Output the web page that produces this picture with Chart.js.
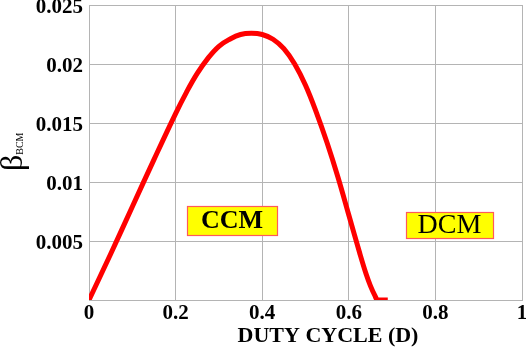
<!DOCTYPE html>
<html>
<head>
<meta charset="utf-8">
<script src="https://cdn.jsdelivr.net/npm/chart.js@4.4.1/dist/chart.umd.min.js"></script>
<style>
  html, body { margin: 0; padding: 0; background: #fff; }
  #wrap { width: 526px; height: 353px; }
</style>
</head>
<body>
<div id="wrap"><canvas id="betaChart" width="526" height="353"></canvas></div>
<script>
// duty cycle D and beta_BCM
const duty = [0, 0.05, 0.1, 0.15, 0.2, 0.225, 0.25, 0.275, 0.3, 0.325, 0.35, 0.375, 0.4, 0.425, 0.45, 0.475, 0.5, 0.525, 0.55, 0.575, 0.6, 0.625, 0.64, 0.65, 0.66, 0.667, 0.69];
const beta = [0, 0.0039, 0.0079, 0.0119, 0.0158, 0.0176, 0.0192, 0.0205, 0.0215, 0.0221, 0.0225, 0.0226, 0.0225, 0.0221, 0.0213, 0.0200, 0.0182, 0.0159, 0.0133, 0.0104, 0.0072, 0.0040, 0.0022, 0.0012, 0.0004, 0, 0];
const xTicks = [0, 0.2, 0.4, 0.6, 0.8, 1];
const yTicks = [0, 0.005, 0.01, 0.015, 0.02, 0.025];

const serif = '"Liberation Serif", "Times New Roman", serif';

// titles + CCM/DCM boxes
const extras = {
  id: 'extras',
  afterDraw(chart) {
    const ctx = chart.ctx;
    ctx.save();
    ctx.fillStyle = '#000';
    ctx.font = 'bold 22px ' + serif;
    ctx.textAlign = 'center';
    ctx.textBaseline = 'middle';
    ctx.fillText('DUTY CYCLE (D)', 328, 336);

    // y title: beta with subscript BCM, rotated
    ctx.translate(14, 171);
    ctx.rotate(-Math.PI / 2);
    ctx.textAlign = 'left';
    ctx.textBaseline = 'middle';
    ctx.font = '32px ' + serif;
    ctx.fillText('\u03B2', 0, 0);
    const bw = ctx.measureText('\u03B2').width;
    ctx.font = '10px ' + serif;
    ctx.fillText('BCM', bw, 6);
    ctx.restore();

    function box(label, x, y, w, h, font) {
      ctx.save();
      ctx.fillStyle = '#ffff00';
      ctx.fillRect(x, y, w, h);
      ctx.strokeStyle = '#ff5a5a';
      ctx.lineWidth = 1.2;
      ctx.strokeRect(x + 0.5, y + 0.5, w, h);
      ctx.fillStyle = '#000';
      ctx.font = font;
      ctx.textAlign = 'center';
      ctx.textBaseline = 'middle';
      ctx.fillText(label, x + w / 2, y + h / 2 + 1);
      ctx.restore();
    }
    box('CCM', 187, 206, 90, 29, 'bold 26px ' + serif);
    box('DCM', 406, 212, 87, 26, '28px ' + serif);
  }
};

new Chart(document.getElementById('betaChart'), {
  type: 'line',
  data: {
    datasets: [{
      data: duty.map((d, i) => ({ x: d, y: beta[i] })),
      borderColor: '#ff0000',
      borderWidth: 5,
      pointRadius: 0,
      tension: 0.4,
      fill: false
    }]
  },
  options: {
    responsive: false,
    animation: false,
    layout: { padding: { top: 5, right: 4, left: 0, bottom: 0 } },
    plugins: { legend: { display: false }, tooltip: { enabled: false } },
    scales: {
      x: {
        type: 'linear',
        min: 0, max: 1,
        afterBuildTicks: s => { s.ticks = xTicks.map(v => ({ value: v })); },
        afterFit: s => { s.height = 53; s.paddingLeft = 0; s.paddingRight = 0; },
        ticks: {
          color: '#000',
          padding: 1,
          font: { family: serif, size: 21, weight: 'bold' },
          callback: v => String(v)
        },
        grid: { color: '#b4b4b4', lineWidth: 1, drawTicks: false },
        border: { color: '#b4b4b4' }
      },
      y: {
        min: 0, max: 0.025,
        afterBuildTicks: s => { s.ticks = yTicks.map(v => ({ value: v })); },
        afterFit: s => { s.width = 89; s.paddingTop = 0; s.paddingBottom = 0; },
        ticks: {
          color: '#000',
          padding: 6,
          labelOffset: 3,
          font: { family: serif, size: 21, weight: 'bold' },
          callback: v => v === 0 ? '' : String(+v.toFixed(3))
        },
        grid: { color: '#b4b4b4', lineWidth: 1, drawTicks: false },
        border: { color: '#b4b4b4' }
      }
    }
  },
  plugins: [extras]
});
</script>
</body>
</html>
